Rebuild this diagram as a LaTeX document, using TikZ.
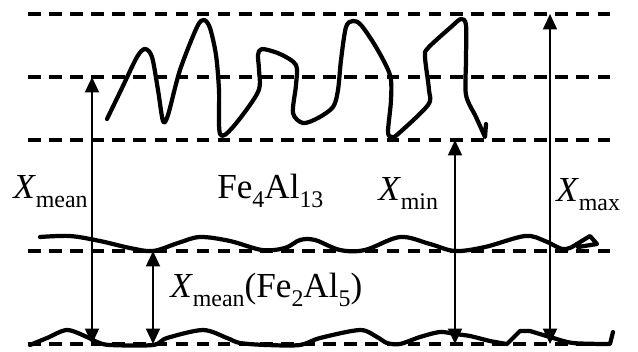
\documentclass[tikz,border=0pt]{standalone}
\usepackage{fontspec}
\setmainfont{Liberation Serif}
\usetikzlibrary{arrows.meta}

\newcommand{\lowsub}[1]{\raisebox{-7pt}{\fontsize{17}{19}\selectfont #1}}

\begin{document}
\begin{tikzpicture}[x=0.025cm, y=-0.025cm,
    level/.style={line width=2.3pt, dash pattern=on 9pt off 6pt},
    rough/.style={line width=3pt, line cap=round, line join=round},
    gauge/.style={line width=1.2pt,
                  {Triangle[length=11pt,width=10pt]}-{Triangle[length=11pt,width=10pt]}},
    lbl/.style={font=\fontsize{25}{30}\selectfont, inner sep=0pt, anchor=base west}]
    \useasboundingbox (0,0) rectangle (638,351);
    % reference levels
    \foreach \lev/\yy in {top/14, upper/77, lower/140, mid/251, base/344} {
      \coordinate (\lev W) at (28,\yy);
      \coordinate (\lev E) at (613,\yy);
      \draw[level] (\lev W) -- (\lev E);
    }
    % Fe4Al13 front
    \draw[rough] plot[smooth, tension=0.5] coordinates {
      (107,119) (122,88) (137,57) (145,49) (152,57) (158,90) (163,121)
      (168,115) (180,70) (197,27) (204,20) (210,28) (216,55) (219,90)
      (220,134) (233,127) (258,92) (259,70) (258,55) (262,49) (280,54)
      (296,65) (296,85) (293,113) (303,123) (318,118) (333,107) (338,90)
      (341,60) (346,27) (353,21) (361,25) (376,47) (390,75) (391,100)
      (388,132) (392,137) (398,134) (428,105) (429,90) (425,57) (428,48)
      (451,27) (461,19) (466,25) (466,60) (466,95) (476,117) (485,137)}
      -- (486,124);
    % Fe4Al13 / Fe2Al5 interface
    \draw[rough] plot[smooth, tension=0.55] coordinates {
      (40,237) (70,236) (100,241) (130,248) (153,251) (178,243) (200,237)
      (230,241) (262,250) (285,248) (300,240) (315,240) (340,250)
      (365,250) (400,237) (430,244) (455,251) (485,247)
      (525,236) (545,241) (562,249) (572,247)}
      -- (590,236) -- (597,244) -- (578,247);
    % substrate interface
    \draw[rough] plot[smooth, tension=0.5] coordinates {
      (30,345) (47,338) (67,330) (87,337) (97,342) (110,345) (153,345)
      (167,338) (203,330) (227,338) (240,343) (267,345) (300,345) (320,338)
      (360,330) (377,337) (387,343) (400,344) (420,337) (440,332) (455,334)
      (470,336) (490,341) (507,344)}
      -- (520,331)
      --plot[smooth, tension=0.5] coordinates {
      (530,331) (550,337) (573,343) (610,344)}
      -- (613,332);
    % thickness gauges
    \coordinate (meanT) at (92,77);
    \coordinate (meanB) at (92,344);
    \coordinate (twoT) at (153,251);
    \coordinate (twoB) at (153,344);
    \coordinate (minT) at (455,140);
    \coordinate (minB) at (455,344);
    \coordinate (maxT) at (550,14);
    \coordinate (maxB) at (550,344);
    \draw[gauge] (meanB) -- (meanT);
    \draw[gauge] (twoB) -- (twoT);
    \draw[gauge] (minB) -- (minT);
    \draw[gauge] (maxB) -- (maxT);
    % labels
    \node[lbl] (meanLbl) at (13,198) {\textit{X}\lowsub{mean}};
    \node[lbl] (fourLbl) at (217,198) {Fe\lowsub{4}Al\lowsub{13}};
    \node[lbl] (minLbl) at (378,200) {\textit{X}\lowsub{min}};
    \node[lbl] (maxLbl) at (556,201) {\textit{X}\lowsub{max}};
    \node[lbl] (twoLbl) at (170,297) {\textit{X}\lowsub{mean}(Fe\lowsub{2}Al\lowsub{5})};
\end{tikzpicture}
\end{document}
